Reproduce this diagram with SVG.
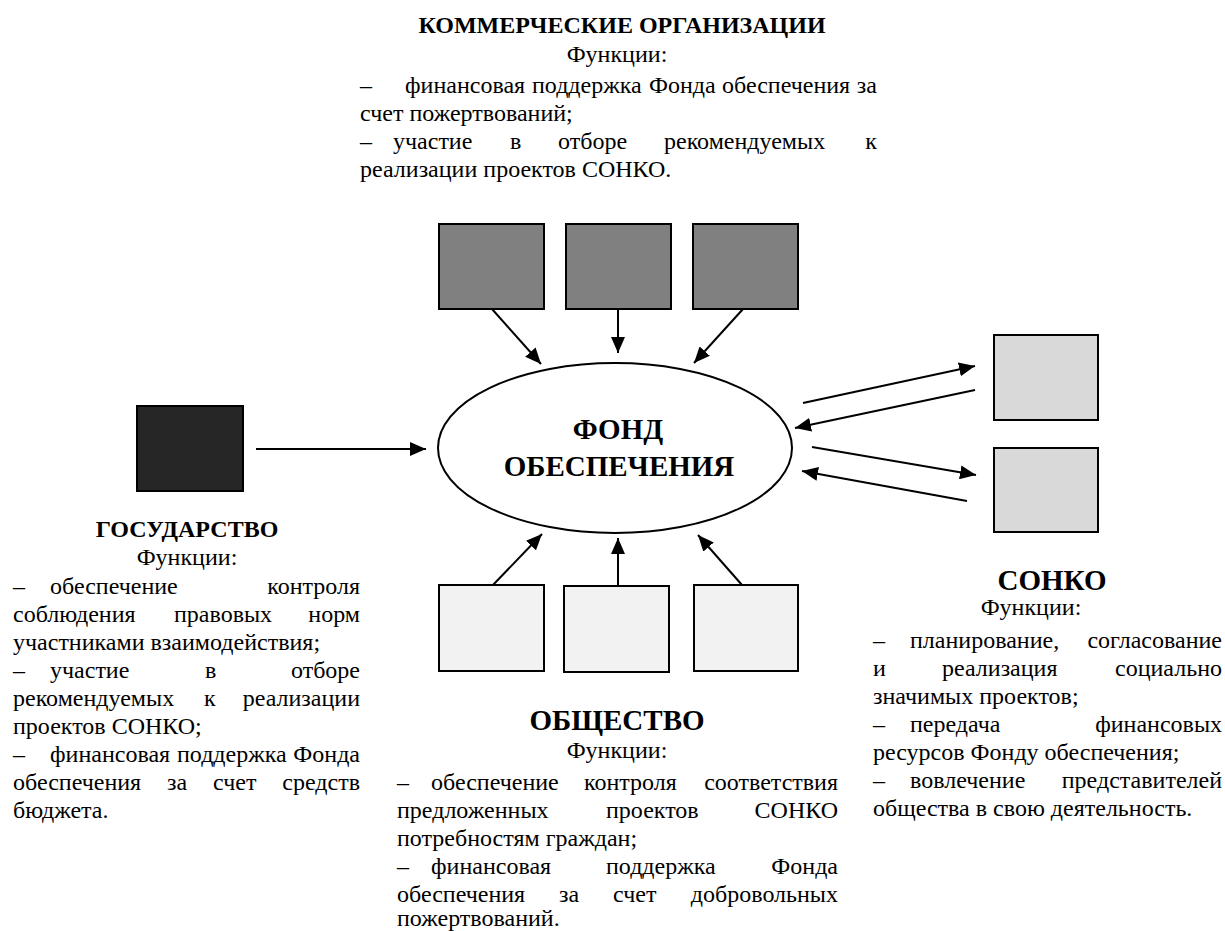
<svg xmlns="http://www.w3.org/2000/svg" width="1225" height="931" viewBox="0 0 1225 931">
<defs>
<style>
text{font-family:"Liberation Serif","Times New Roman",serif;fill:#000}
.t{font-size:24px}
.h{font-size:24px;font-weight:bold}
.H{font-size:29px;font-weight:bold}
.c{text-anchor:middle}
.box{stroke:#000;stroke-width:2}
.arr{stroke:#000;stroke-width:2;fill:none;marker-end:url(#ah)}
</style>
<marker id="ah" markerUnits="userSpaceOnUse" markerWidth="16" markerHeight="14" viewBox="0 0 16 14" refX="16" refY="7" orient="auto">
<path d="M0,0 L16,7 L0,14 z" fill="#000"/>
</marker>
</defs>
<rect width="1225" height="931" fill="#fff"/>

<g id="fond">
<ellipse cx="615" cy="448" rx="177" ry="85" fill="#fff" stroke="#000" stroke-width="2"/>
<text class="H c" x="618" y="439">ФОНД</text>
<text class="H c" x="619" y="476">ОБЕСПЕЧЕНИЯ</text>
</g>

<g id="kommercheskie">
<rect class="box" x="439" y="224" width="105" height="85" fill="#808080"/>
<rect class="box" x="566" y="224" width="105" height="85" fill="#808080"/>
<rect class="box" x="693" y="224" width="105" height="85" fill="#808080"/>
<text class="h c" x="622" y="33">КОММЕРЧЕСКИЕ ОРГАНИЗАЦИИ</text>
<text class="t c" x="617" y="62">Функции:</text>
<text class="t" y="93"><tspan x="360">–</tspan><tspan x="405">финансовая</tspan><tspan x="532">поддержка</tspan><tspan x="649">Фонда</tspan><tspan x="722">обеспечения</tspan><tspan x="877" text-anchor="end">за</tspan></text>
<text class="t" x="360" y="121">счет пожертвований;</text>
<text class="t" y="149"><tspan x="360">–</tspan><tspan x="393">участие</tspan><tspan x="510">в</tspan><tspan x="558">отборе</tspan><tspan x="664">рекомендуемых</tspan><tspan x="877" text-anchor="end">к</tspan></text>
<text class="t" x="360" y="177">реализации проектов СОНКО.</text>
</g>

<g id="gosudarstvo">
<rect class="box" x="137" y="406" width="106" height="85" fill="#262626"/>
<text class="h c" x="187" y="537">ГОСУДАРСТВО</text>
<text class="t c" x="187" y="565">Функции:</text>
<text class="t" y="594"><tspan x="13">–</tspan><tspan x="50">обеспечение</tspan><tspan x="360" text-anchor="end">контроля</tspan></text>
<text class="t" y="622"><tspan x="13">соблюдения</tspan><tspan x="174">правовых</tspan><tspan x="360" text-anchor="end">норм</tspan></text>
<text class="t" x="13" y="650">участниками взаимодействия;</text>
<text class="t" y="678"><tspan x="13">–</tspan><tspan x="50">участие</tspan><tspan x="205">в</tspan><tspan x="360" text-anchor="end">отборе</tspan></text>
<text class="t" y="706"><tspan x="13">рекомендуемых</tspan><tspan x="204">к</tspan><tspan x="360" text-anchor="end">реализации</tspan></text>
<text class="t" x="13" y="734">проектов СОНКО;</text>
<text class="t" y="762"><tspan x="13">–</tspan><tspan x="50">финансовая</tspan><tspan x="177">поддержка</tspan><tspan x="360" text-anchor="end">Фонда</tspan></text>
<text class="t" y="790"><tspan x="13">обеспечения</tspan><tspan x="167">за</tspan><tspan x="213">счет</tspan><tspan x="360" text-anchor="end">средств</tspan></text>
<text class="t" x="13" y="818">бюджета.</text>
</g>

<g id="obshchestvo">
<rect class="box" x="439" y="585" width="105" height="86" fill="#f2f2f2"/>
<rect class="box" x="564" y="586" width="105" height="86" fill="#f2f2f2"/>
<rect class="box" x="694" y="585" width="104" height="86" fill="#f2f2f2"/>
<text class="H c" x="617" y="730">ОБЩЕСТВО</text>
<text class="t c" x="617" y="758">Функции:</text>
<text class="t" y="790"><tspan x="397">–</tspan><tspan x="431">обеспечение</tspan><tspan x="584">контроля</tspan><tspan x="838" text-anchor="end">соответствия</tspan></text>
<text class="t" y="818"><tspan x="397">предложенных</tspan><tspan x="606">проектов</tspan><tspan x="838" text-anchor="end">СОНКО</tspan></text>
<text class="t" x="397" y="846">потребностям граждан;</text>
<text class="t" y="874"><tspan x="397">–</tspan><tspan x="431">финансовая</tspan><tspan x="606">поддержка</tspan><tspan x="838" text-anchor="end">Фонда</tspan></text>
<text class="t" y="902"><tspan x="397">обеспечения</tspan><tspan x="559">за</tspan><tspan x="613">счет</tspan><tspan x="838" text-anchor="end">добровольных</tspan></text>
<text class="t" x="397" y="926">пожертвований.</text>
</g>

<g id="sonko">
<rect class="box" x="994" y="335" width="104" height="85" fill="#d9d9d9"/>
<rect class="box" x="994" y="448" width="104" height="84" fill="#d9d9d9"/>
<text class="H c" x="1052" y="590">СОНКО</text>
<text class="t c" x="1031" y="615">Функции:</text>
<text class="t" y="648"><tspan x="873">–</tspan><tspan x="910">планирование,</tspan><tspan x="1222" text-anchor="end">согласование</tspan></text>
<text class="t" y="676"><tspan x="873">и</tspan><tspan x="942">реализация</tspan><tspan x="1222" text-anchor="end">социально</tspan></text>
<text class="t" x="873" y="704">значимых проектов;</text>
<text class="t" y="732"><tspan x="873">–</tspan><tspan x="910">передача</tspan><tspan x="1222" text-anchor="end">финансовых</tspan></text>
<text class="t" x="873" y="760">ресурсов Фонду обеспечения;</text>
<text class="t" y="788"><tspan x="873">–</tspan><tspan x="910">вовлечение</tspan><tspan x="1222" text-anchor="end">представителей</tspan></text>
<text class="t" x="873" y="816">общества в свою деятельность.</text>
</g>

<g id="connectors">
<line class="arr" x1="492" y1="309" x2="541" y2="364"/>
<line class="arr" x1="618" y1="309" x2="618" y2="353"/>
<line class="arr" x1="743" y1="309" x2="694" y2="363"/>
<line class="arr" x1="493" y1="585" x2="542" y2="534"/>
<line class="arr" x1="618" y1="585" x2="618" y2="538"/>
<line class="arr" x1="742" y1="585" x2="698" y2="535"/>
<line class="arr" x1="256" y1="449" x2="426" y2="449"/>
<line class="arr" x1="803" y1="403" x2="975" y2="366"/>
<line class="arr" x1="975" y1="390" x2="795" y2="428"/>
<line class="arr" x1="812" y1="447" x2="976" y2="475"/>
<line class="arr" x1="967" y1="501" x2="802" y2="471"/>
</g>
</svg>
